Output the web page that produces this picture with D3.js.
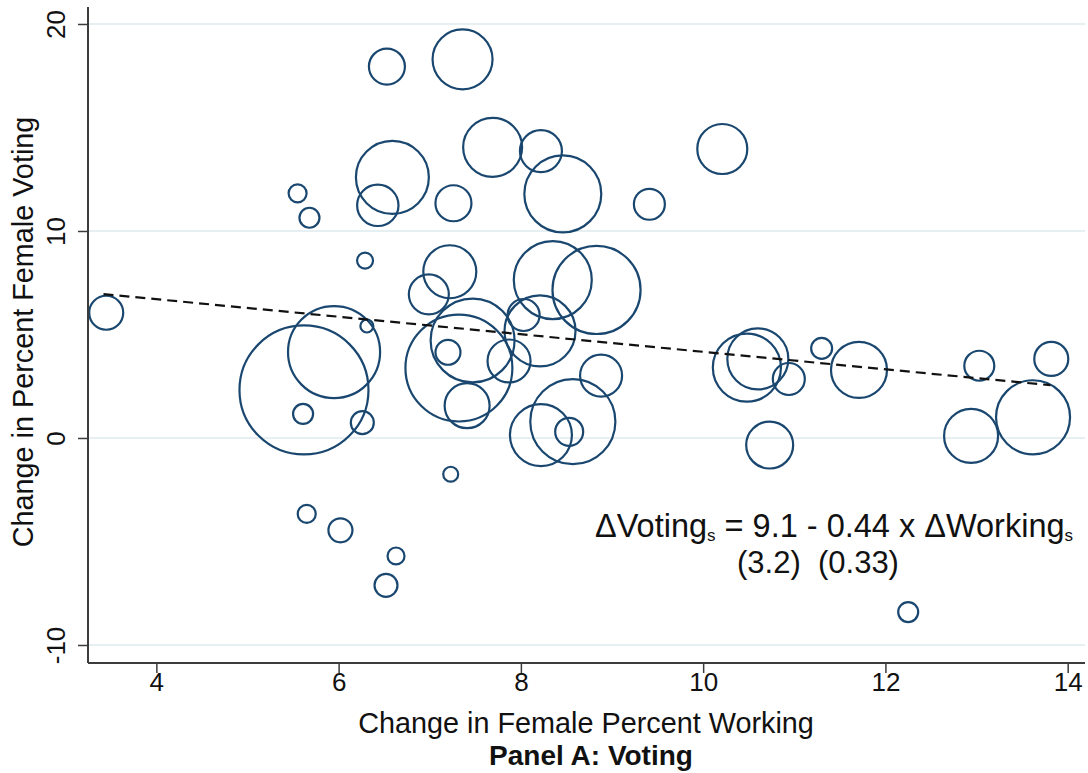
<!DOCTYPE html>
<html>
<head>
<meta charset="utf-8">
<script src="https://cdn.jsdelivr.net/npm/d3@7"></script>
<style>
  html, body { margin: 0; padding: 0; background: #ffffff; }
  svg { display: block; font-family: "Liberation Sans", Arial, Helvetica, sans-serif; }
</style>
</head>
<body>
<svg id="chart" width="1088" height="773"></svg>
<script>
// State-level changes: female percent working (x), female percent voting (y), bubble weight
const workChange = [
  3.45, 6.53, 7.36, 6.59, 6.43, 5.55, 5.68, 7.26, 7.69, 8.22,
  8.46, 9.41, 10.21, 6.29, 6.99, 7.22, 8.35, 8.83, 8.03, 8.21,
  7.47, 7.32, 7.20, 7.87, 7.41, 8.88, 8.57, 8.22, 8.53, 7.23,
  5.62, 5.95, 6.31, 5.61, 6.26, 5.65, 6.02, 6.63, 6.52, 12.25,
  10.48, 10.60, 10.94, 11.30, 11.71, 10.73, 13.03, 13.82, 12.94, 13.62
];
const voteChange = [
  6.05, 17.94, 18.29, 12.59, 11.24, 11.82, 10.64, 11.34, 14.04, 13.86,
  11.79, 11.29, 13.96, 8.57, 6.94, 8.03, 7.63, 7.15, 5.94, 5.17,
  4.71, 3.38, 4.14, 3.72, 1.56, 3.01, 0.79, 0.14, 0.30, -1.75,
  2.32, 4.15, 5.41, 1.16, 0.74, -3.67, -4.46, -5.70, -7.12, -8.41,
  3.40, 3.82, 2.85, 4.33, 3.29, -0.34, 3.49, 3.82, 0.10, 1.00
];
const stateWeight = [
  2.89, 3.24, 9.00, 13.3, 4.28, 0.81, 1.00, 3.24, 8.70, 4.41,
  14.8, 2.40, 6.25, 0.64, 4.00, 7.02, 15.2, 19.4, 2.56, 12.6,
  17.6, 28.6, 1.56, 4.62, 5.06, 4.41, 18.1, 9.61, 1.96, 0.56,
  41.6, 21.2, 0.42, 1.00, 1.32, 0.81, 1.44, 0.72, 1.32, 1.00,
  11.6, 9.30, 2.56, 1.10, 7.84, 5.52, 2.25, 2.89, 7.29, 13.7
];

// Axis ticks
const xTicks = [4, 6, 8, 10, 12, 14];
const yTicks = [-10, 0, 10, 20];

// Fitted line endpoints (weighted fit)
const fitX = [3.42, 13.81];
const fitY = [6.95, 2.55];

const svg = d3.select("#chart");
const plot = { left: 88, right: 1085, top: 7, bottom: 663 };

const x = d3.scaleLinear().domain([3.25, 14.19]).range([plot.left, plot.right]);
const y = d3.scaleLinear().domain([-10.87, 20.82]).range([plot.bottom, plot.top]);
const r = d3.scaleSqrt().domain([0, 1]).range([0, 10]);

const ink = "#1a476f";
const axisColor = "#3c3c3c";
const plainNumber = d => String(d);

// Horizontal gridlines
svg.append("g")
  .selectAll("line")
  .data(yTicks)
  .join("line")
  .attr("x1", plot.left)
  .attr("x2", plot.right)
  .attr("y1", d => y(d))
  .attr("y2", d => y(d))
  .attr("stroke", "#e6eff1")
  .attr("stroke-width", 2);

// Bubbles
const points = workChange.map((d, i) => ({ x: d, y: voteChange[i], w: stateWeight[i] }));
svg.append("g")
  .selectAll("circle")
  .data(points)
  .join("circle")
  .attr("cx", d => x(d.x))
  .attr("cy", d => y(d.y))
  .attr("r", d => r(d.w))
  .attr("fill", "none")
  .attr("stroke", ink)
  .attr("stroke-width", 2.2);

// Fitted line
svg.append("path")
  .datum(fitX.map((d, i) => [d, fitY[i]]))
  .attr("d", d3.line().x(d => x(d[0])).y(d => y(d[1])))
  .attr("fill", "none")
  .attr("stroke", "#111")
  .attr("stroke-width", 2.2)
  .attr("stroke-dasharray", "10,6");

// Left axis
const yAxis = svg.append("g")
  .attr("transform", `translate(${plot.left},0)`)
  .call(d3.axisLeft(y).tickValues(yTicks).tickSize(10).tickFormat(plainNumber));
yAxis.select(".domain").remove();
yAxis.append("line")
  .attr("x1", 0).attr("x2", 0)
  .attr("y1", plot.top).attr("y2", plot.bottom)
  .attr("stroke", axisColor).attr("stroke-width", 2);
yAxis.selectAll(".tick line").attr("stroke", axisColor).attr("stroke-width", 1.5);
yAxis.selectAll(".tick text")
  .attr("x", null).attr("dy", null)
  .attr("transform", "translate(-23,0) rotate(-90)")
  .attr("text-anchor", "middle")
  .attr("font-size", 26)
  .attr("font-family", "Liberation Sans, Arial, sans-serif")
  .attr("fill", "#111");

// Bottom axis
const xAxis = svg.append("g")
  .attr("transform", `translate(0,${plot.bottom})`)
  .call(d3.axisBottom(x).tickValues(xTicks).tickSize(10).tickFormat(plainNumber));
xAxis.select(".domain").remove();
xAxis.append("line")
  .attr("x1", plot.left).attr("x2", plot.right)
  .attr("y1", 0).attr("y2", 0)
  .attr("stroke", axisColor).attr("stroke-width", 2);
xAxis.selectAll(".tick line").attr("stroke", axisColor).attr("stroke-width", 1.5);
xAxis.selectAll(".tick text")
  .attr("y", 28).attr("dy", null)
  .attr("font-size", 26)
  .attr("font-family", "Liberation Sans, Arial, sans-serif")
  .attr("fill", "#111");

// Axis titles
svg.append("text")
  .attr("x", 586).attr("y", 733)
  .attr("text-anchor", "middle")
  .attr("font-size", 28.8)
  .attr("fill", "#111")
  .text("Change in Female Percent Working");

svg.append("text")
  .attr("transform", "translate(33,332) rotate(-90)")
  .attr("text-anchor", "middle")
  .attr("font-size", 28.8)
  .attr("fill", "#111")
  .text("Change in Percent Female Voting");

svg.append("text")
  .attr("x", 591).attr("y", 765)
  .attr("text-anchor", "middle")
  .attr("font-size", 28)
  .attr("font-weight", "bold")
  .attr("fill", "#111")
  .text("Panel A: Voting");

// Regression equation with standard errors
const eq = svg.append("text")
  .attr("x", 595).attr("y", 537)
  .attr("font-size", 32.5)
  .attr("fill", "#111");
eq.append("tspan").text("\u0394Voting");
eq.append("tspan").attr("font-size", 17).attr("dy", 4).text("s");
eq.append("tspan").attr("dy", -4).text(" = 9.1 - 0.44 x \u0394Working");
eq.append("tspan").attr("font-size", 17).attr("dy", 4).text("s");

svg.append("text")
  .attr("x", 737).attr("y", 573)
  .attr("font-size", 31)
  .attr("fill", "#111")
  .attr("xml:space", "preserve")
  .style("white-space", "pre")
  .text("(3.2)  (0.33)");
</script>
</body>
</html>
